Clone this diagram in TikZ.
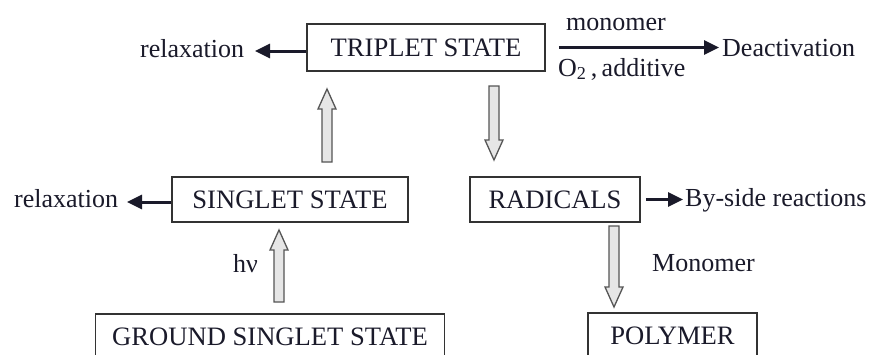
\documentclass[tikz,border=0pt]{standalone}
\usepackage{fontspec}
\setmainfont{Liberation Serif}
\usetikzlibrary{arrows.meta,calc}
\definecolor{boxgray}{HTML}{333333}
\definecolor{arrgray}{HTML}{555555}
\definecolor{arrfill}{HTML}{E6E6E6}
\definecolor{ink}{HTML}{1A1A2A}
\newcommand\fs{\fontsize{26}{30}\selectfont}
\newcommand\fb{\fontsize{26.6}{30}\selectfont}
\tikzset{
  statebox/.style={draw=boxgray, line width=1.5pt, inner sep=0pt, font=\fb, text=ink},
  lbl/.style={inner sep=0pt, anchor=base west, font=\fs, text=ink},
  blackarr/.style={draw=ink, line width=3pt, -{Triangle[length=15pt,width=14pt]}},
  hollow/.style={draw=arrgray, line width=1.3pt, fill=arrfill, line join=miter},
}
\newcommand\hollowup[2]{\path[hollow] let \p1=(#1), \p2=(#2) in
  (\x1-5pt,\y1) -- (\x1-5pt,\y2-20pt) -- (\x1-9pt,\y2-20pt) -- (\x1,\y2) --
  (\x1+9pt,\y2-20pt) -- (\x1+5pt,\y2-20pt) -- (\x1+5pt,\y1) -- cycle;}
\newcommand\hollowdown[2]{\path[hollow] let \p1=(#1), \p2=(#2) in
  (\x1-5pt,\y1) -- (\x1-5pt,\y2+20pt) -- (\x1-9pt,\y2+20pt) -- (\x1,\y2) --
  (\x1+9pt,\y2+20pt) -- (\x1+5pt,\y2+20pt) -- (\x1+5pt,\y1) -- cycle;}
\begin{document}
\begin{tikzpicture}[x=1pt,y=-1pt]
\useasboundingbox (0,0) rectangle (872,354);
\clip (0,0) rectangle (872,354);
\fill[white] (0,0) rectangle (872,354);
% boxes
\node[statebox, minimum width=238pt, minimum height=47pt] (trip) at (426,47.5) {TRIPLET STATE};
\node[statebox, minimum width=236pt, minimum height=45pt] (sing) at (290,199.5) {SINGLET STATE};
\node[statebox, minimum width=170pt, minimum height=45pt] (rad) at (555,199.5) {RADICALS};
\node[statebox, minimum width=349pt, minimum height=45pt] (ground) at (270,336.5) {GROUND SINGLET STATE};
\node[statebox, minimum width=169pt, minimum height=45pt] (poly) at (672.5,335.5) {POLYMER};
% labels
\node[lbl] (relax1) at (140,57) {relaxation};
\node[lbl] (relax2) at (14,207) {relaxation};
\node[lbl] (mono1) at (566,30) {monomer};
\node[lbl] (o2add) at (558,76) {O\textsubscript{2}\,,\,additive};
\node[lbl] (deact) at (722,56) {Deactivation};
\node[lbl] (bys) at (685,206) {By-side reactions};
\node[lbl] (hnu) at (233,272) {hν};
\node[lbl] (mono2) at (652,271) {Monomer};
% black arrows
\coordinate (t1) at (255,51);
\coordinate (t2) at (127,202);
\draw[blackarr] (trip.west |- t1) -- (t1);
\draw[blackarr] (sing.west |- t2) -- (t2);
\draw[blackarr, shorten <=13pt, shorten >=3pt] (trip.east) -- (trip.east -| deact.west);
\draw[blackarr, shorten <=5pt, shorten >=2pt] (rad.east) -- (rad.east -| bys.west);
% hollow arrows
\coordinate (a1s) at (327,162); \coordinate (a1e) at (327,89);
\coordinate (a2s) at (279,302); \coordinate (a2e) at (279,230);
\coordinate (a3s) at (494,86);  \coordinate (a3e) at (494,160);
\coordinate (a4s) at (614,226); \coordinate (a4e) at (614,307);
\hollowup{a1s}{a1e}
\hollowup{a2s}{a2e}
\hollowdown{a3s}{a3e}
\hollowdown{a4s}{a4e}
\end{tikzpicture}
\end{document}
